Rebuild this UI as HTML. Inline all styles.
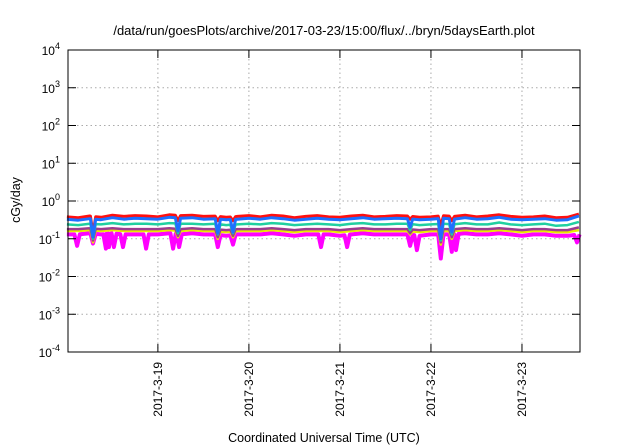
<!DOCTYPE html>
<html><head><meta charset="utf-8"><style>
body{margin:0;background:#fff;}
svg{display:block;font-family:"Liberation Sans",sans-serif;}
</style></head><body>
<svg id="chart" width="640" height="448" viewBox="0 0 640 448">
<text x="324" y="35" font-size="13" text-anchor="middle" fill="#000">/data/run/goesPlots/archive/2017-03-23/15:00/flux/../bryn/5daysEarth.plot</text>
<text transform="translate(20,200) rotate(-90)" font-size="12.5" text-anchor="middle">cGy/day</text>
<text x="324" y="442" font-size="12.5" text-anchor="middle">Coordinated Universal Time (UTC)</text>
<g id="grid"></g><g id="series"></g><g id="axes"></g>
</svg>
<script>
const hours=[0,3,6,9,12,15,18,21,24,27,30,33,36,39,42,45,48,51,54,57,60,63,66,69,72,75,78,81,84,87,90,93,96,99,102,105,108,111,114,117,120,123,126,129,132,135];
const red=[0.38,0.36,0.40,0.37,0.42,0.39,0.41,0.40,0.38,0.43,0.41,0.42,0.39,0.40,0.37,0.39,0.41,0.38,0.42,0.40,0.36,0.39,0.41,0.38,0.37,0.40,0.42,0.38,0.39,0.41,0.40,0.37,0.38,0.41,0.39,0.42,0.38,0.40,0.43,0.39,0.37,0.38,0.40,0.36,0.37,0.45];
const blue=[0.33,0.31,0.34,0.32,0.36,0.33,0.35,0.34,0.33,0.37,0.35,0.36,0.33,0.34,0.32,0.33,0.35,0.33,0.36,0.34,0.31,0.33,0.35,0.33,0.32,0.34,0.36,0.33,0.34,0.35,0.34,0.32,0.33,0.35,0.33,0.36,0.33,0.34,0.37,0.33,0.32,0.33,0.34,0.31,0.32,0.40];
const teal=[0.24,0.23,0.25,0.24,0.26,0.24,0.25,0.25,0.24,0.26,0.25,0.25,0.24,0.25,0.23,0.24,0.25,0.24,0.26,0.25,0.23,0.24,0.25,0.24,0.23,0.25,0.26,0.24,0.24,0.25,0.25,0.23,0.24,0.25,0.24,0.26,0.24,0.24,0.27,0.24,0.23,0.24,0.25,0.22,0.23,0.28];
const purple=[0.18,0.18,0.19,0.18,0.19,0.18,0.18,0.18,0.18,0.19,0.18,0.19,0.18,0.18,0.17,0.18,0.18,0.18,0.19,0.18,0.17,0.18,0.18,0.18,0.17,0.18,0.19,0.18,0.18,0.18,0.18,0.17,0.18,0.18,0.18,0.19,0.18,0.18,0.19,0.18,0.17,0.18,0.18,0.17,0.17,0.20];
const yellow=[0.16,0.16,0.17,0.16,0.17,0.16,0.16,0.16,0.16,0.17,0.16,0.17,0.16,0.16,0.15,0.16,0.16,0.16,0.17,0.16,0.15,0.16,0.16,0.16,0.15,0.16,0.17,0.16,0.16,0.16,0.16,0.15,0.16,0.16,0.16,0.17,0.16,0.16,0.17,0.16,0.15,0.16,0.16,0.15,0.15,0.17];
const magenta=[0.13,0.13,0.14,0.13,0.14,0.13,0.13,0.13,0.13,0.14,0.13,0.14,0.13,0.13,0.12,0.13,0.13,0.13,0.14,0.13,0.12,0.13,0.13,0.13,0.12,0.13,0.14,0.13,0.13,0.13,0.13,0.12,0.13,0.13,0.13,0.14,0.13,0.13,0.14,0.13,0.12,0.13,0.13,0.12,0.12,0.13];
const magentaDipHours=[2.7,6.9,10.3,11.1,12.4,14.8,20.9,28.0,29.6,39.8,43.8,67.0,73.9,90.5,92.3,98.6,101.5,102.6,134.5];
const magentaDipValues=[0.065,0.075,0.055,0.06,0.06,0.06,0.055,0.055,0.06,0.06,0.07,0.06,0.06,0.065,0.05,0.03,0.045,0.05,0.08];
const commonDipHours=[6.9,29.3,39.8,43.8,90.5,98.6,101.5];
const blueDipValues=[0.11,0.16,0.14,0.15,0.2,0.1,0.15];
const tealDipValues=[0.10,0.14,0.13,0.14,0.17,0.09,0.13];
const purpleDipValues=[0.09,0.12,0.11,0.12,0.14,0.08,0.11];
const yellowDipValues=[0.08,0.11,0.10,0.11,0.13,0.07,0.10];
const redDipValues=[0.14,0.3,0.3,0.3,0.33,0.22,0.3];
const yTicks=[-4,-3,-2,-1,0,1,2,3,4];
const xTickHours=[24,48,72,96,120];
const xTickLabels=["2017-3-19","2017-3-20","2017-3-21","2017-3-22","2017-3-23"];
const L=68,R=580,T=50,B=352,H0=0.3,H1=135.3;
const X=h=>L+(h-H0)/(H1-H0)*(R-L);
const Y=v=>B-(Math.log10(v)+4)/8*(B-T);
const NS="http://www.w3.org/2000/svg";
function mk(tag,attrs,parent){const e=document.createElementNS(NS,tag);for(const k in attrs)e.setAttribute(k,attrs[k]);parent.appendChild(e);return e;}
function baseAt(arr,h){
  for(let i=0;i<hours.length-1;i++){if(h<=hours[i+1]){const f=(h-hours[i])/(hours[i+1]-hours[i]);return arr[i]+(arr[i+1]-arr[i])*Math.max(0,f);}}
  return arr[arr.length-1];
}
function buildPoints(arr,dh,dv){
  let pts=hours.map((h,i)=>[h,arr[i]]);
  const near=h=>dh.some(d=>Math.abs(d-h)<0.9);
  pts=pts.filter(p=>!near(p[0]));
  dh.forEach((h,i)=>{pts.push([h-0.7,baseAt(arr,h-0.7)]);pts.push([h,dv[i]]);pts.push([h+0.7,baseAt(arr,h+0.7)]);});
  pts.sort((a,b)=>a[0]-b[0]);
  return pts.filter(p=>p[0]>=0&&p[0]<=135.3);
}
const grid=document.getElementById('grid'),axes=document.getElementById('axes'),ser=document.getElementById('series');
yTicks.forEach(p=>{
  const y=Y(Math.pow(10,p));
  if(p>-4&&p<4){const g=mk('line',{x1:L,x2:R,y1:y,y2:y,stroke:'#aaa','stroke-width':1,'stroke-dasharray':'1.5,3'},grid);
  
  }
  const t1=mk('line',{x1:L,x2:L+8,y1:y,y2:y,stroke:'#000'},axes);
  
  
  mk('line',{x1:R-8,x2:R,y1:y,y2:y,stroke:'#000'},axes);
  const tx=mk('text',{x:L-8,y:y+5,'font-size':12,'text-anchor':'end'},axes);
  
  
  tx.textContent='10';
  const sp=mk('tspan',{dy:-6,'font-size':9},tx);sp.textContent=String(p);
});
xTickHours.forEach((h,i)=>{
  const x=X(h);
  const g=mk('line',{x1:x,x2:x,y1:T,y2:B,stroke:'#aaa','stroke-width':1,'stroke-dasharray':'1.5,3'},grid);
  
  
  mk('line',{x1:x,x2:x,y1:B-8,y2:B,stroke:'#000'},axes);
  mk('line',{x1:x,x2:x,y1:T,y2:T+8,stroke:'#000'},axes);
  const tx=mk('text',{transform:`translate(${x+4},362) rotate(-90)`,'font-size':12,'text-anchor':'end'},axes);
  
  
  tx.textContent=xTickLabels[i];
});
const fr=mk('rect',{x:L,y:T,width:R-L,height:B-T,fill:'none',stroke:'#000','stroke-width':1},axes);


const seriesList=[
  [magenta,magentaDipHours,magentaDipValues,'#ff00ff','magenta',4],
  [yellow,commonDipHours,yellowDipValues,'#e8e800','yellow',2.5],
  [purple,commonDipHours,purpleDipValues,'#9a3d8f','purple',2.5],
  [teal,commonDipHours,tealDipValues,'#20d0a0','teal',2.5],
  [red,commonDipHours,redDipValues,'#ff1010','red',3],
  [blue,commonDipHours,blueDipValues,'#1e6fff','blue',3]];
seriesList.forEach(([arr,dh,dv,c,n,w])=>{
  const pts=buildPoints(arr,dh,dv);
  const d=pts.map((p,i)=>(i?'L':'M')+X(p[0]).toFixed(1)+','+Y(p[1]).toFixed(1)).join('');
  const p=mk('path',{d:d,fill:'none',stroke:c,'stroke-width':w,'stroke-linejoin':'round'},ser);
  
  
});
</script>
</body></html>
